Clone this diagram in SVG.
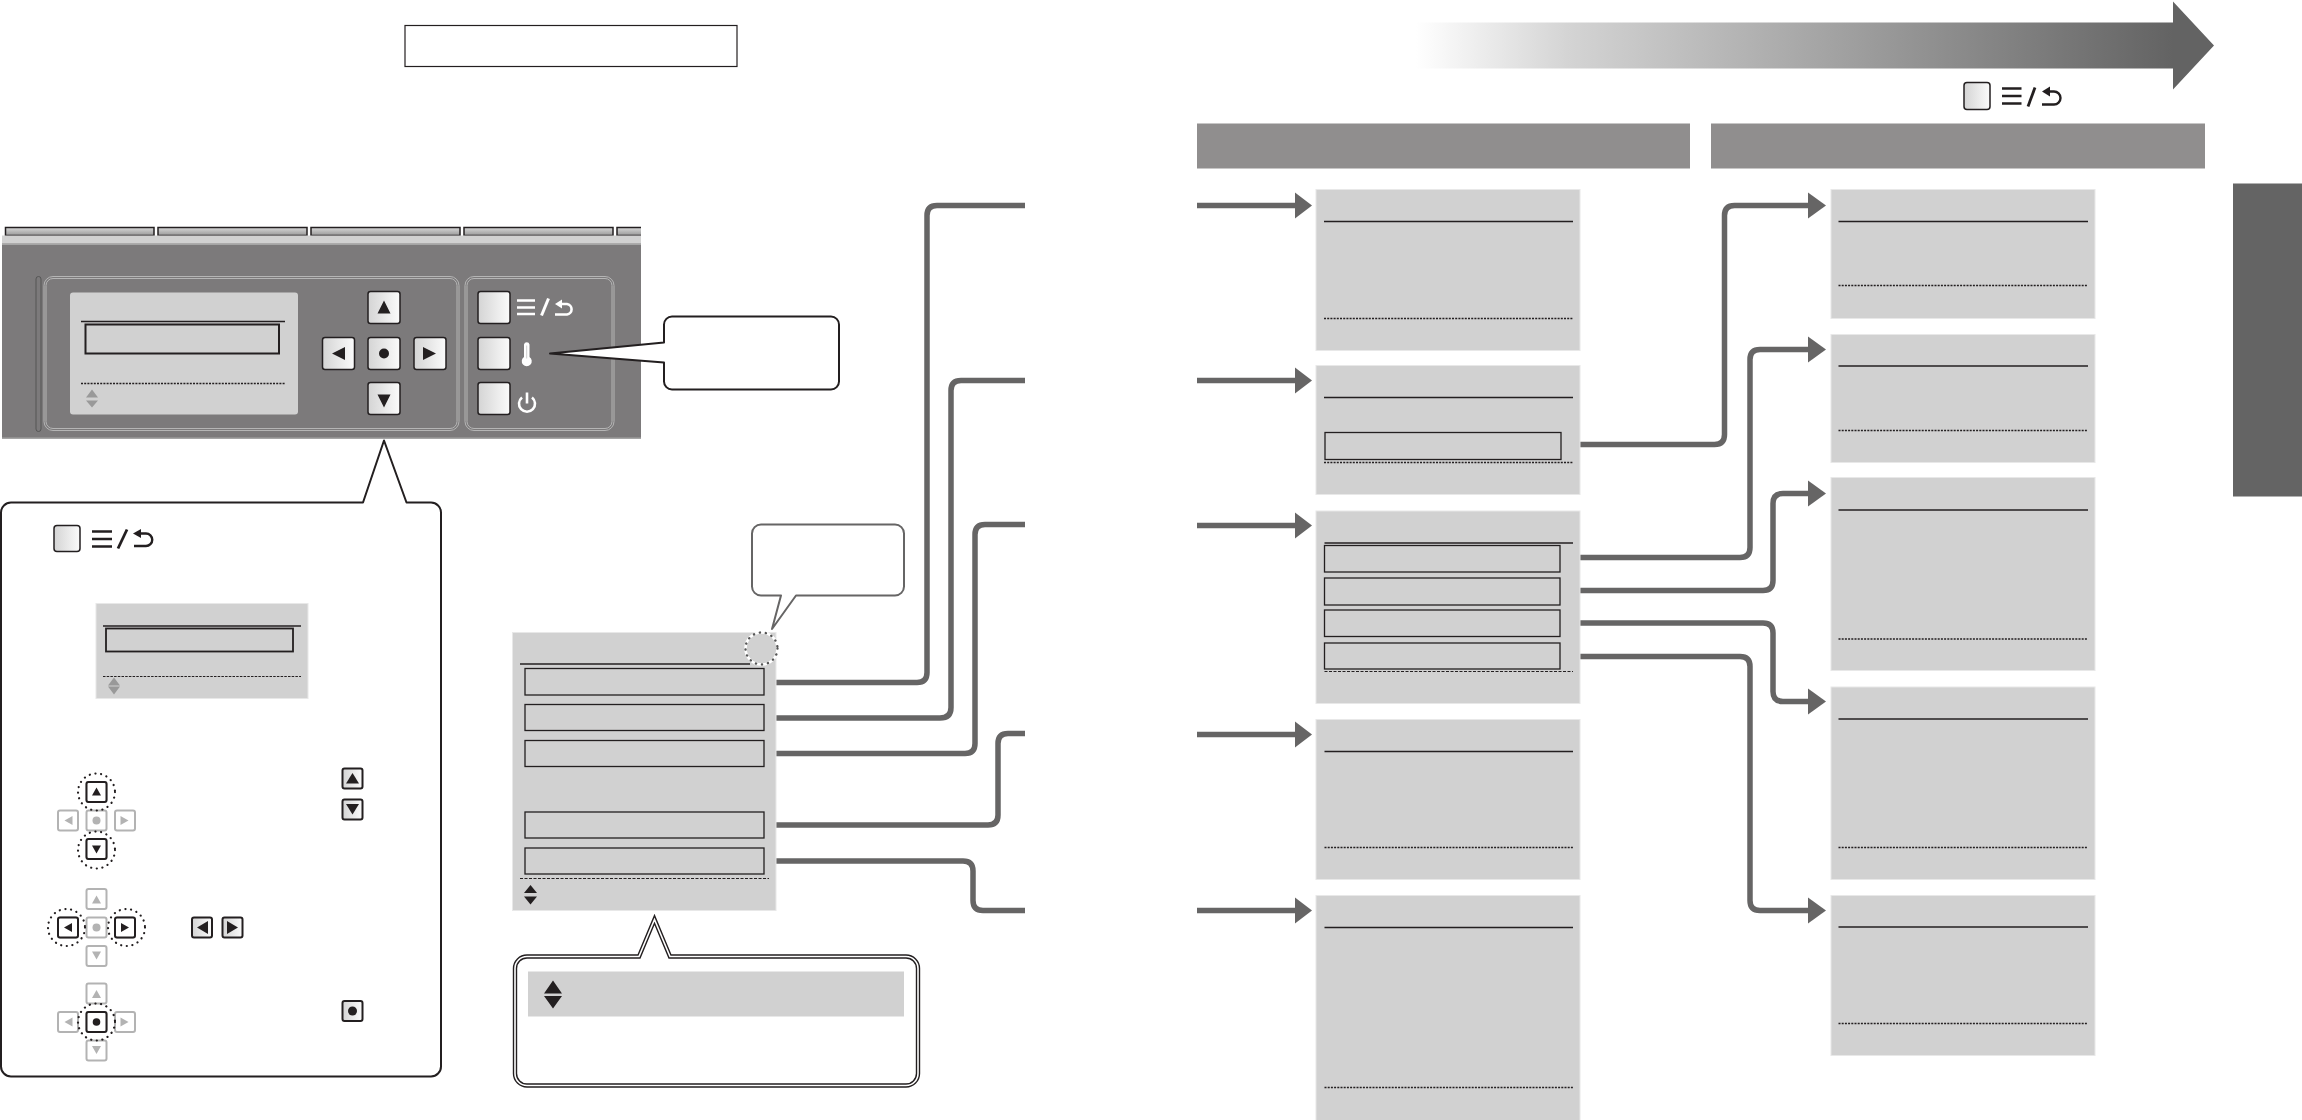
<svg xmlns="http://www.w3.org/2000/svg" xmlns:xlink="http://www.w3.org/1999/xlink" width="2302" height="1120" viewBox="0 0 2302 1120">
<style>
.lcd{fill:#d1d1d1;stroke:#e8e8e8;stroke-width:1}
.hr{stroke:#231f20;stroke-width:1.5;fill:none}
.dot{stroke:#231f20;stroke-width:1.5;stroke-dasharray:2 1.2;fill:none}
.row{fill:none;stroke:#231f20;stroke-width:1.3}
.conn{fill:none;stroke:#666565;stroke-width:5.5;stroke-linejoin:round}
.ah{fill:#666565}
.hdr{fill:#908e8e}
.co{fill:#fff;stroke:#231f20;stroke-width:2;stroke-linejoin:round}
.wi{fill:none;stroke:#fff;stroke-width:2.6}
.ki{fill:none;stroke:#231f20;stroke-width:2.4}
.ring{fill:none;stroke:#231f20;stroke-width:2.2;stroke-linecap:round;stroke-dasharray:0.1 5.6}
.frame{fill:none;stroke:#b5b5b5;stroke-width:1}
.sm{stroke:#231f20;stroke-width:2;fill:url(#btn)}
.on{stroke:#231f20;stroke-width:2;fill:#fff}
.smoff{stroke:#b3b3b3;stroke-width:2;fill:#fff}
</style>
<defs>
<linearGradient id="btn" x1="0" x2="1" y1="0" y2="0"><stop offset="0" stop-color="#d4d4d4"/><stop offset="1" stop-color="#fbfbfb"/></linearGradient>
<linearGradient id="tabg" x1="0" x2="0" y1="0" y2="1"><stop offset="0" stop-color="#d8d8d8"/><stop offset="1" stop-color="#999"/></linearGradient>
<linearGradient id="big" gradientUnits="userSpaceOnUse" x1="1416" x2="2173" y1="0" y2="0"><stop offset="0" stop-color="#fff"/><stop offset="0.2" stop-color="#d4d4d4"/><stop offset="1" stop-color="#636363"/></linearGradient>
<g id="pad-off">
<rect class="smoff" x="-38.500" y="-10" width="20" height="20" rx="2"/>
<path d="M-24 -4.500V4.500L-32 0Z" fill="#b3b3b3"/>
<rect class="smoff" x="-10" y="-10" width="20" height="20" rx="2"/>
<circle r="4" fill="#b3b3b3"/>
<rect class="smoff" x="18.500" y="-10" width="20" height="20" rx="2"/>
<path d="M24 -4.500V4.500L32 0Z" fill="#b3b3b3"/>
<rect class="smoff" x="-10" y="-38.500" width="20" height="20" rx="2"/>
<path d="M-4.500 -24H4.500L0 -32Z" fill="#b3b3b3"/>
<rect class="smoff" x="-10" y="18.500" width="20" height="20" rx="2"/>
<path d="M-4.500 24H4.500L0 32Z" fill="#b3b3b3"/>
</g>
</defs>
<g transform="translate(0 0.500)">

<rect id="title-box" x="405" y="25" width="332" height="41" fill="#fff" stroke="#231f20" stroke-width="1.200"/>

<g id="control-panel">
<g fill="url(#tabg)" stroke="#231f20" stroke-width="1.500">
<rect x="5.500" y="227" width="148.500" height="8"/>
<rect x="158" y="227" width="149" height="8"/>
<rect x="311" y="227" width="149" height="8"/>
<rect x="464" y="227" width="149" height="8"/>
<path d="M641 227H617V235H641"/>
</g>
<rect x="2" y="235" width="639" height="8" fill="#d1d1d1"/>
<rect x="2" y="243" width="639" height="195" fill="#7c7a7b"/>
<rect x="2" y="243" width="639" height="1.500" fill="#a5a5a5"/>
<rect x="2" y="437" width="639" height="1.500" fill="#a5a5a5"/>
<rect x="36" y="276" width="5" height="155" rx="2.500" fill="none" stroke="#555" stroke-width="1"/>
<rect class="frame" x="44" y="276" width="415" height="154" rx="9"/>
<rect class="frame" x="46" y="278" width="411" height="150" rx="7"/>
<rect class="frame" x="465" y="276" width="149" height="154" rx="9"/>
<rect class="frame" x="467" y="278" width="145" height="150" rx="7"/>
<g id="panel-lcd">
<rect x="70" y="292" width="228" height="122" rx="3" fill="#d1d1d1"/>
<line class="hr" x1="81" y1="321" x2="285" y2="321"/>
<rect x="85.500" y="324" width="193.500" height="29" fill="none" stroke="#231f20" stroke-width="2"/>
<line class="dot" x1="81" y1="383" x2="285" y2="383"/>
<path d="M92 389L98 397H86Z M92 407L98 400H86Z" fill="#999"/>
</g>
<g stroke="#231f20" stroke-width="1.500" fill="url(#btn)">
<rect x="368" y="291" width="32" height="32" rx="2.500"/>
<rect x="322.500" y="337" width="32" height="32" rx="2.500"/>
<rect x="368" y="337" width="32" height="32" rx="2.500"/>
<rect x="414" y="337" width="32" height="32" rx="2.500"/>
<rect x="368" y="382" width="32" height="32" rx="2.500"/>
<rect x="478" y="291" width="32" height="32" rx="2.500"/>
<rect x="478" y="337" width="32" height="32" rx="2.500"/>
<rect x="478" y="382" width="32" height="32" rx="2.500"/>
</g>
<path d="M384 300L390.500 313H377.500Z M384 407L390.500 394H377.500Z M332 353L345 346.500V359.500Z M436 353L423 346.500V359.500Z" fill="#231f20"/>
<circle cx="384" cy="353" r="5" fill="#231f20"/>
<g class="wi">
<path d="M517 300H535M517 307H535M517 313.500H535"/>
<path d="M548.500 298L541.500 315" stroke-width="3"/>
<path d="M559 303.500H567A5.300 5.300 0 0 1 567 314H555"/>
</g>
<path d="M555 303.500L562 299V308Z" fill="#fff"/>
<path d="M524 344A2.800 2.800 0 0 1 529.500 344V356.500A5 5 0 1 1 524 356.500Z" fill="#fff"/>
<path d="M526.700 345V358" stroke="#cfcfcf" stroke-width="1"/>
<g class="wi"><path d="M527 392V403"/><path d="M522 397A8 8 0 1 0 532 397"/></g>
</g>

<g id="callout-temp">
<path class="co" d="M672 316H831A8 8 0 0 1 839 324V381A8 8 0 0 1 831 389H672A8 8 0 0 1 664 381V362L550 353L664 342V324A8 8 0 0 1 672 316Z"/>
</g>

<g id="callout-keys">
<path class="co" d="M11 502H363L384 440L406.500 502H431A10 10 0 0 1 441 512V1066A10 10 0 0 1 431 1076H11A10 10 0 0 1 1 1066V512A10 10 0 0 1 11 502Z"/>
<rect x="54" y="525" width="26" height="26" rx="3" fill="url(#btn)" stroke="#231f20" stroke-width="1.500"/>
<g class="ki">
<path d="M92 531H112M92 538.500H112M92 546H112"/>
<path d="M127 529L118 548" stroke-width="2.800"/>
<path d="M137 533H146A6.200 6.200 0 0 1 146 545.500H134"/>
</g>
<path d="M133 533L141 528.500V537.500Z" fill="#231f20"/>
<g id="mini-lcd">
<rect class="lcd" x="96" y="603" width="212" height="95"/>
<line class="hr" x1="103" y1="625.500" x2="301" y2="625.500" stroke-width="1"/>
<rect x="106" y="628" width="187" height="23" fill="none" stroke="#231f20" stroke-width="1.800"/>
<line x1="103" y1="676" x2="301" y2="676" stroke="#231f20" stroke-width="1" stroke-dasharray="2.500 1.200"/>
<path d="M114 677L120 685H108Z M114 694L120 686H108Z" fill="#999"/>
</g>
<use href="#pad-off" x="96.500" y="820"/>
<rect class="on" x="86.500" y="781.500" width="20" height="20" rx="2"/>
<rect class="on" x="86.500" y="838.500" width="20" height="20" rx="2"/>
<path d="M96.500 787L101 795H92Z M96.500 853L101 845H92Z" fill="#231f20"/>
<ellipse class="ring" cx="96.500" cy="791.500" rx="18.500" ry="18.500"/>
<ellipse class="ring" cx="96.500" cy="849.500" rx="18.500" ry="18.500"/>
<use href="#pad-off" x="96.500" y="927"/>
<rect class="on" x="58" y="917" width="20" height="20" rx="2"/>
<rect class="on" x="115" y="917" width="20" height="20" rx="2"/>
<path d="M64 927L72 922.500V931.500Z M129 927L121 922.500V931.500Z" fill="#231f20"/>
<ellipse class="ring" cx="66.500" cy="927" rx="18.500" ry="18.500"/>
<ellipse class="ring" cx="126.500" cy="927" rx="18.500" ry="18.500"/>
<use href="#pad-off" x="96.500" y="1021.500"/>
<rect class="on" x="86.500" y="1011.500" width="20" height="20" rx="2"/>
<circle cx="96.500" cy="1021.500" r="3.800" fill="#231f20"/>
<ellipse class="ring" cx="96.500" cy="1021.500" rx="18.500" ry="18.500"/>
<g>
<rect class="sm" x="342.500" y="768" width="20" height="20" rx="2"/>
<path d="M352.500 772.500L359 783H346Z" fill="#231f20"/>
<rect class="sm" x="342.500" y="799" width="20" height="20" rx="2"/>
<path d="M352.500 814L359 803.500H346Z" fill="#231f20"/>
<rect class="sm" x="192" y="917" width="20" height="20" rx="2"/>
<path d="M197 927L208 920.500V933.500Z" fill="#231f20"/>
<rect class="sm" x="222.500" y="917" width="20" height="20" rx="2"/>
<path d="M238 927L227 920.500V933.500Z" fill="#231f20"/>
<rect class="sm" x="342.500" y="1000.500" width="20" height="20" rx="2"/>
<circle cx="352.500" cy="1010.500" r="4.500" fill="#231f20"/>
</g>
</g>

<g id="connectors">
<path class="conn" d="M776 682H917Q927 682 927 672V215Q927 205 937 205H1025"/>
<path class="conn" d="M776 717.500H940Q951 717.500 951 707V390Q951 380 961 380H1025"/>
<path class="conn" d="M776 753H965Q975 753 975 743V534Q975 524 985 524H1025"/>
<path class="conn" d="M776 824.500H988Q998 824.500 998 814.500V743Q998 733 1008 733H1025"/>
<path class="conn" d="M776 860.500H963Q973 860.500 973 870.500V900Q973 910 983 910H1025"/>
<path class="conn" d="M1197 205H1296M1197 380H1296M1197 525H1296M1197 734H1296M1197 910H1296"/>
<path class="conn" d="M1580 444H1714.500Q1724.500 444 1724.500 434V215Q1724.500 205 1734.500 205H1810"/>
<path class="conn" d="M1580 557H1740Q1750 557 1750 547V359Q1750 349 1760 349H1810"/>
<path class="conn" d="M1580 590H1763Q1773 590 1773 580V503Q1773 493 1783 493H1810"/>
<path class="conn" d="M1580 622.500H1763Q1773 622.500 1773 632.500V691Q1773 701 1783 701H1810"/>
<path class="conn" d="M1580 656H1740Q1750 656 1750 666V900Q1750 910 1760 910H1810"/>
<g class="ah">
<path d="M1295 192L1312 205L1295 218Z"/><path d="M1295 367L1312 380L1295 393Z"/><path d="M1295 512L1312 525L1295 538Z"/><path d="M1295 721L1312 734L1295 747Z"/><path d="M1295 897L1312 910L1295 923Z"/>
<path d="M1808 192L1826 205L1808 218Z"/><path d="M1808 336L1826 349L1808 362Z"/><path d="M1808 480L1826 493L1808 506Z"/><path d="M1808 688L1826 701L1808 714Z"/><path d="M1808 897L1826 910L1808 923Z"/>
</g>
</g>

<g id="main-lcd">
<rect class="lcd" x="512.500" y="632" width="263.500" height="278"/>
<line class="hr" x1="520" y1="663.500" x2="750" y2="663.500"/>
<g class="row">
<rect x="525" y="668" width="239" height="26.500"/>
<rect x="525" y="704" width="239" height="26"/>
<rect x="525" y="740" width="239" height="26"/>
<rect x="525" y="811.500" width="239" height="26"/>
<rect x="525" y="847.500" width="239" height="26"/>
</g>
<line x1="520" y1="878" x2="769" y2="878" stroke="#231f20" stroke-width="1" stroke-dasharray="3 1.500"/>
<path d="M530.500 884.500L537 892.500H524Z M530.500 904L537 896H524Z" fill="#231f20"/>
<circle cx="761.500" cy="648" r="16" fill="#d1d1d1" stroke="#fff" stroke-width="2.500"/>
<circle cx="761.500" cy="648" r="16" fill="none" stroke="#555" stroke-width="2.400" stroke-linecap="round" stroke-dasharray="0.1 6"/>
</g>

<g id="callout-corner">
<path d="M761 524H895A9 9 0 0 1 904 533V586A9 9 0 0 1 895 595H796L772 628.500L781 595H761A9 9 0 0 1 752 586V533A9 9 0 0 1 761 524Z" fill="#fff" stroke="#666565" stroke-width="2" stroke-linejoin="round"/>
</g>

<g id="callout-scroll">
<path d="M527 956H639L654.500 919L670 956H906A12 12 0 0 1 918 968V1073A12 12 0 0 1 906 1085H527A12 12 0 0 1 515 1073V968A12 12 0 0 1 527 956Z" fill="#fff" stroke="#231f20" stroke-width="4.400"/>
<path d="M527 956H639L654.500 919L670 956H906A12 12 0 0 1 918 968V1073A12 12 0 0 1 906 1085H527A12 12 0 0 1 515 1073V968A12 12 0 0 1 527 956Z" fill="none" stroke="#fff" stroke-width="1.600"/>
<rect x="528" y="971" width="376" height="45" fill="#d1d1d1"/>
<path d="M553 980L562 993H544Z M553 1008L562 995.500H544Z" fill="#231f20"/>
</g>

<g id="flow-arrow">
<path d="M1416 22H2173V1L2214 45L2173 89V68H1416Z" fill="url(#big)"/>
</g>
<g id="menu-key">
<rect x="1964" y="82" width="26" height="27" rx="3" fill="url(#btn)" stroke="#231f20" stroke-width="1.500"/>
<g class="ki">
<path d="M2002 88H2021.500M2002 95.500H2021.500M2002 103H2021.500"/>
<path d="M2035 87L2028 106" stroke-width="2.800"/>
<path d="M2046 91H2054A6.500 6.500 0 0 1 2054 104H2042"/>
</g>
<path d="M2042 91L2050 86V96Z" fill="#231f20"/>
</g>
<rect id="header-1" class="hdr" x="1197" y="123" width="493" height="45"/>
<rect id="header-2" class="hdr" x="1711" y="123" width="494" height="45"/>
<rect id="side-tab" x="2233" y="183" width="69" height="313" fill="#646464"/>

<g id="box-a"><rect class="lcd" x="1316" y="189" width="264" height="161"/><line class="hr" x1="1324" y1="221" x2="1573" y2="221"/><line class="dot" x1="1324" y1="318" x2="1573" y2="318"/></g>
<g id="box-b"><rect class="lcd" x="1316" y="365" width="264" height="129"/><line class="hr" x1="1324" y1="397" x2="1573" y2="397"/><rect class="row" x="1325" y="432" width="236" height="27"/><line class="dot" x1="1324" y1="462" x2="1573" y2="462"/></g>
<g id="box-c"><rect class="lcd" x="1316" y="510.500" width="264" height="192.500"/><line class="hr" x1="1324.500" y1="542.500" x2="1573" y2="542.500"/>
<g class="row"><rect x="1324.500" y="545" width="235.500" height="26.500"/><rect x="1324.500" y="577.500" width="235.500" height="27"/><rect x="1324.500" y="609.500" width="235.500" height="26.500"/><rect x="1324.500" y="642.500" width="235.500" height="26"/></g>
<line x1="1324.500" y1="671" x2="1573" y2="671" stroke="#231f20" stroke-width="1" stroke-dasharray="3 1.500"/></g>
<g id="box-d"><rect class="lcd" x="1316" y="719" width="264" height="160"/><line class="hr" x1="1324.500" y1="751" x2="1573" y2="751"/><line class="dot" x1="1324.500" y1="847" x2="1573" y2="847"/></g>
<g id="box-e"><rect class="lcd" x="1316" y="895" width="264" height="226"/><line class="hr" x1="1324.500" y1="927" x2="1573" y2="927"/><line class="dot" x1="1324.500" y1="1087" x2="1573" y2="1087"/></g>

<g id="box-r1"><rect class="lcd" x="1831" y="189" width="264" height="129"/><line class="hr" x1="1838.500" y1="221" x2="2088" y2="221"/><line class="dot" x1="1838.500" y1="285" x2="2088" y2="285"/></g>
<g id="box-r2"><rect class="lcd" x="1831" y="334" width="264" height="128"/><line class="hr" x1="1838.500" y1="365.500" x2="2088" y2="365.500"/><line class="dot" x1="1838.500" y1="430" x2="2088" y2="430"/></g>
<g id="box-r3"><rect class="lcd" x="1831" y="477" width="264" height="193"/><line class="hr" x1="1838.500" y1="509.500" x2="2088" y2="509.500"/><line class="dot" x1="1838.500" y1="638.500" x2="2088" y2="638.500"/></g>
<g id="box-r4"><rect class="lcd" x="1831" y="686.500" width="264" height="192.500"/><line class="hr" x1="1838.500" y1="718.500" x2="2088" y2="718.500"/><line class="dot" x1="1838.500" y1="847" x2="2088" y2="847"/></g>
<g id="box-r5"><rect class="lcd" x="1831" y="895" width="264" height="160"/><line class="hr" x1="1838.500" y1="926.500" x2="2088" y2="926.500"/><line class="dot" x1="1838.500" y1="1023" x2="2088" y2="1023"/></g>
</g>
</svg>
